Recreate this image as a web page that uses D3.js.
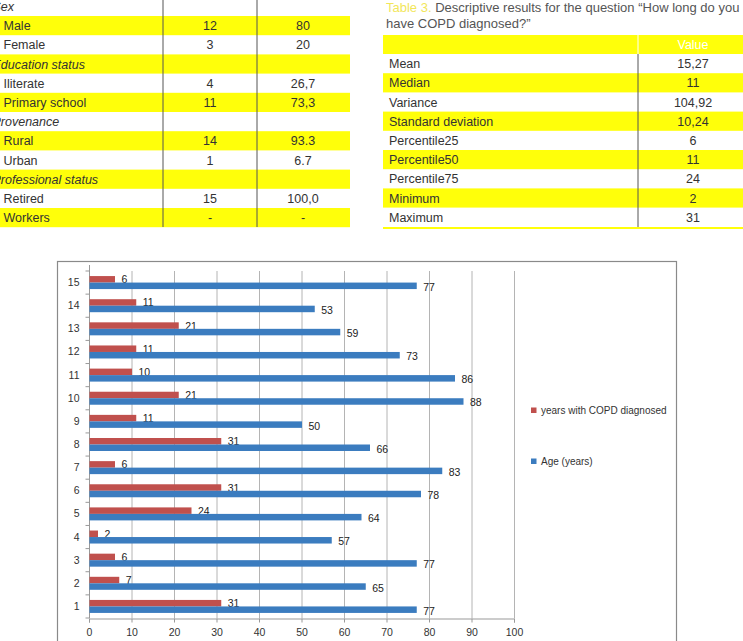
<!DOCTYPE html>
<html>
<head>
<meta charset="utf-8">
<script src="https://cdn.jsdelivr.net/npm/d3@7"></script>
<style>
  html, body { margin: 0; padding: 0; background: #fff; }
  svg { display: block; font-family: "Liberation Sans", Arial, sans-serif; }
</style>
</head>
<body>
<svg id="page" width="743" height="641"></svg>
<script>
// table 2 (left, clipped) – demographic rows
const demoLabels = ['Sex', 'Male', 'Female', 'Education status', 'Iliterate', 'Primary school',
  'Provenance', 'Rural', 'Urban', 'Professional status', 'Retired', 'Workers']
const demoHeader = [true, false, false, true, false, false, true, false, false, true, false, false]
const demoN = ['', '12', '3', '', '4', '11', '', '14', '1', '', '15', '-']
const demoPct = ['', '80', '20', '', '26,7', '73,3', '', '93.3', '6.7', '', '100,0', '-']

// table 3 – descriptive statistics
const statLabels = ['Mean', 'Median', 'Variance', 'Standard deviation', 'Percentile25',
  'Percentile50', 'Percentile75', 'Minimum', 'Maximum']
const statValues = ['15,27', '11', '104,92', '10,24', '6', '11', '24', '2', '31']

// bar chart
const patients = ['1', '2', '3', '4', '5', '6', '7', '8', '9', '10', '11', '12', '13', '14', '15']
const yearsCopd = [31, 7, 6, 2, 24, 31, 6, 31, 11, 21, 10, 11, 21, 11, 6]
const ageYears = [77, 65, 77, 57, 64, 78, 83, 66, 50, 88, 86, 73, 59, 53, 77]
const seriesNames = ['years with COPD diagnosed', 'Age (years)']
const xTicks = [0, 10, 20, 30, 40, 50, 60, 70, 80, 90, 100]

const YELLOW = '#ffff0a'
const TXT = '#333'
const svg = d3.select('#page')

// ---------- left table (cut at the page edge) ----------
const rowH = 19.2
const t1 = svg.append('g').attr('class', 'table-demo')
demoLabels.forEach((lab, i) => {
  const rowTop = -3.2 + i * rowH
  if (i % 2 === 1) {
    t1.append('rect').attr('x', 0).attr('y', rowTop).attr('width', 350).attr('height', rowH)
      .attr('fill', YELLOW)
  }
  const base = rowTop + rowH / 2 + 4.5
  t1.append('text')
    .attr('x', demoHeader[i] ? -7.5 : 3.5).attr('y', base)
    .attr('font-size', 12.5).attr('fill', TXT)
    .attr('font-style', demoHeader[i] ? 'italic' : 'normal')
    .text(lab)
  t1.append('text').attr('x', 210).attr('y', base).attr('text-anchor', 'middle')
    .attr('font-size', 12.5).attr('fill', TXT).text(demoN[i])
  t1.append('text').attr('x', 303).attr('y', base).attr('text-anchor', 'middle')
    .attr('font-size', 12.5).attr('fill', TXT).text(demoPct[i])
})
;[163, 257].forEach(x => {
  t1.append('line').attr('x1', x).attr('x2', x).attr('y1', 0).attr('y2', 227)
    .attr('stroke', '#555').attr('stroke-width', 1)
})

// ---------- right table ----------
const t3 = svg.append('g').attr('class', 'table-stats')
const title = t3.append('text').attr('x', 386).attr('y', 12).attr('font-size', 13).attr('fill', '#555')
title.append('tspan').attr('fill', '#f2e65a').text('Table 3.')
title.append('tspan').text(' Descriptive results for the question \u201cHow long do you')
t3.append('text').attr('x', 386).attr('y', 28).attr('font-size', 13).attr('fill', '#555')
  .text('have COPD diagnosed?\u201d')

t3.append('rect').attr('x', 383).attr('y', 35).attr('width', 360).attr('height', 19).attr('fill', YELLOW)
t3.append('line').attr('x1', 638).attr('x2', 638).attr('y1', 35).attr('y2', 54)
  .attr('stroke', '#fff').attr('stroke-width', 1)
t3.append('text').attr('x', 693).attr('y', 49).attr('text-anchor', 'middle')
  .attr('font-size', 12.5).attr('fill', '#fff').text('Value')

statLabels.forEach((lab, i) => {
  const rowTop = 54 + i * rowH
  if (i % 2 === 1) {
    t3.append('rect').attr('x', 383).attr('y', rowTop).attr('width', 360).attr('height', rowH)
      .attr('fill', YELLOW)
  }
  const base = rowTop + rowH / 2 + 4.5
  t3.append('text').attr('x', 389).attr('y', base).attr('font-size', 12.5).attr('fill', TXT).text(lab)
  t3.append('text').attr('x', 693).attr('y', base).attr('text-anchor', 'middle')
    .attr('font-size', 12.5).attr('fill', TXT).text(statValues[i])
})
t3.append('line').attr('x1', 638).attr('x2', 638).attr('y1', 54).attr('y2', 227)
  .attr('stroke', '#555').attr('stroke-width', 1)
t3.append('rect').attr('x', 383).attr('y', 227).attr('width', 360).attr('height', 2).attr('fill', YELLOW)

// ---------- chart ----------
const chart = svg.append('g').attr('class', 'chart')
chart.append('rect').attr('x', 57.5).attr('y', 261.5).attr('width', 619).attr('height', 400)
  .attr('fill', '#fff').attr('stroke', '#8a8a8a').attr('stroke-width', 1.2)

const plotLeft = 89, plotRight = 514, plotTop = 271, plotBottom = 618
const x = d3.scaleLinear().domain([0, 100]).range([plotLeft, plotRight])
const y = d3.scaleBand().domain(patients.slice().reverse()).range([plotTop, plotBottom])
const inner = d3.scaleBand().domain([0, 1]).range([0, y.bandwidth()]).paddingOuter(0.78)
const colors = ['#c0504d', '#3b7cbf']

// gridlines
chart.append('g')
  .selectAll('line').data(xTicks.slice(1)).join('line')
  .attr('x1', d => x(d) + 0.5).attr('x2', d => x(d) + 0.5)
  .attr('y1', plotTop).attr('y2', plotBottom)
  .attr('stroke', '#b4b4b4').attr('stroke-width', 1)

// bottom axis
const xAxis = chart.append('g').attr('transform', `translate(0,${plotBottom + 0.5})`)
  .call(d3.axisBottom(x).tickValues(xTicks).tickSize(4).tickPadding(6))
xAxis.select('.domain').attr('stroke', '#999')
xAxis.selectAll('.tick line').attr('stroke', '#999')
xAxis.selectAll('.tick text').attr('font-size', 10.5).attr('fill', TXT)
  .attr('font-family', '"Liberation Sans", Arial, sans-serif')

// left axis, ticks between categories
const yAxis = chart.append('g').attr('transform', `translate(${plotLeft + 0.5},0)`)
yAxis.append('line').attr('y1', plotTop - 6).attr('y2', plotBottom).attr('stroke', '#999')
yAxis.selectAll('line.tk').data(d3.range(patients.length + 1)).join('line')
  .attr('class', 'tk')
  .attr('x1', -4).attr('x2', 0)
  .attr('y1', i => plotTop + i * y.bandwidth()).attr('y2', i => plotTop + i * y.bandwidth())
  .attr('stroke', '#999')
yAxis.selectAll('text').data(patients).join('text')
  .attr('x', -10).attr('y', d => y(d) + y.bandwidth() / 2 + 3.5)
  .attr('text-anchor', 'end').attr('font-size', 10.5).attr('fill', TXT)
  .text(d => d)

// bars
const series = [yearsCopd, ageYears]
series.forEach((vals, s) => {
  const g = chart.append('g').attr('class', 'series-' + s)
  g.selectAll('rect').data(patients).join('rect')
    .attr('x', plotLeft + 0.5)
    .attr('y', (d, i) => y(d) + inner(s))
    .attr('width', (d, i) => x(vals[i]) - plotLeft)
    .attr('height', inner.bandwidth())
    .attr('fill', colors[s])
  g.selectAll('text').data(patients).join('text')
    .attr('x', (d, i) => x(vals[i]) + 7)
    .attr('y', (d, i) => y(d) + inner(s) + inner.bandwidth() / 2 + 4 + s)
    .attr('font-size', 10.5).attr('fill', '#222')
    .text((d, i) => vals[i])
})

// legend
const legend = chart.append('g').attr('class', 'legend')
const legendY = [410.5, 461.5]
seriesNames.forEach((name, s) => {
  legend.append('rect').attr('x', 531).attr('y', legendY[s] - 3).attr('width', 5.5).attr('height', 5.5)
    .attr('fill', colors[s])
  legend.append('text').attr('x', 541).attr('y', legendY[s] + 3.5)
    .attr('font-size', 10).attr('fill', TXT).text(name)
})
</script>
</body>
</html>
